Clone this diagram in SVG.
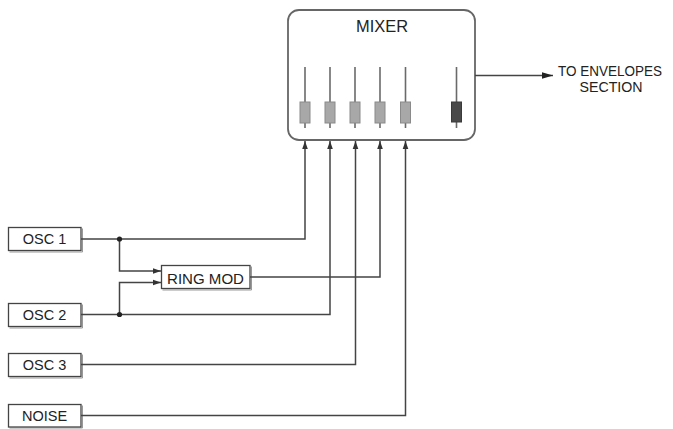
<svg xmlns="http://www.w3.org/2000/svg" width="673" height="429" viewBox="0 0 673 429">
  <defs>
    <style>
      .lbl { font-family: "Liberation Sans", Arial, sans-serif; fill: #222; }
      .box { fill: #fff; stroke: #444; stroke-width: 1.3; }
      .shadow { fill: none; stroke: #999; stroke-width: 1; }
      .wire { fill: none; stroke: #444; stroke-width: 1.5; }
      .track { stroke: #6a6a6a; stroke-width: 1.6; }
      .knob { fill: #a8a8a8; stroke: #8a8a8a; stroke-width: 1; }
      .knob-dark { fill: #4a4a4a; stroke: #3a3a3a; stroke-width: 1; }
    </style>
    <marker id="arr" markerUnits="userSpaceOnUse" markerWidth="8" markerHeight="8" viewBox="0 0 8 8" refX="8" refY="4" orient="auto">
      <path d="M0,1.2 L8,4 L0,6.8 Z" fill="#333"/>
    </marker>
    <marker id="arrBig" markerUnits="userSpaceOnUse" markerWidth="11" markerHeight="8" viewBox="0 0 11 8" refX="11" refY="4" orient="auto">
      <path d="M0,0.8 L11,4 L0,7.2 Z" fill="#222"/>
    </marker>
  </defs>

  <g id="mixer">
    <rect x="288" y="10" width="187" height="130" rx="11" ry="11" fill="#fff" stroke="#666" stroke-width="1.8"/>
    <text class="lbl" x="382" y="31.5" font-size="17" text-anchor="middle" textLength="52" lengthAdjust="spacingAndGlyphs">MIXER</text>
    <line class="track" x1="305" y1="67" x2="305" y2="128"/>
    <line class="track" x1="330" y1="67" x2="330" y2="128"/>
    <line class="track" x1="355" y1="67" x2="355" y2="128" stroke="#333"/>
    <line class="track" x1="380" y1="67" x2="380" y2="128"/>
    <line class="track" x1="405.5" y1="67" x2="405.5" y2="128"/>
    <line class="track" x1="456.5" y1="67" x2="456.5" y2="128"/>
    <rect class="knob" x="300" y="102" width="10" height="21"/>
    <rect class="knob" x="325" y="102" width="10" height="21"/>
    <rect class="knob" x="350" y="102" width="10" height="21"/>
    <rect class="knob" x="375" y="102" width="10" height="21"/>
    <rect class="knob" x="400.5" y="102" width="10" height="21"/>
    <rect class="knob-dark" x="451.5" y="102" width="10" height="20"/>
  </g>

  <g id="osc1">
    <path class="shadow" d="M82.5,228.5 V252 H9.5"/>
    <rect class="box" x="8.5" y="227.5" width="72.5" height="23"/>
    <text class="lbl" x="44.5" y="244" font-size="14.5" text-anchor="middle">OSC 1</text>
  </g>

  <g id="osc2">
    <path class="shadow" d="M82.5,304.5 V328 H9.5"/>
    <rect class="box" x="8.5" y="303.5" width="72.5" height="23"/>
    <text class="lbl" x="44.5" y="320" font-size="14.5" text-anchor="middle">OSC 2</text>
  </g>

  <g id="osc3">
    <path class="shadow" d="M82.5,354.5 V378 H9.5"/>
    <rect class="box" x="8.5" y="353.5" width="72.5" height="23"/>
    <text class="lbl" x="44.5" y="370" font-size="14.5" text-anchor="middle">OSC 3</text>
  </g>

  <g id="noise">
    <path class="shadow" d="M82.5,405.5 V428 H9.5"/>
    <rect class="box" x="8.5" y="404.5" width="72.5" height="22.5"/>
    <text class="lbl" x="44.5" y="421" font-size="14.5" text-anchor="middle">NOISE</text>
  </g>

  <g id="ringmod">
    <path class="shadow" d="M251.5,266.5 V290 H162.5"/>
    <rect class="box" x="161.5" y="265.5" width="88.5" height="23"/>
    <text class="lbl" x="205.5" y="283.5" font-size="15" text-anchor="middle" textLength="77" lengthAdjust="spacingAndGlyphs">RING MOD</text>
  </g>

  <g id="output-label">
    <text class="lbl" x="610" y="75.5" font-size="14" text-anchor="middle" textLength="104" lengthAdjust="spacingAndGlyphs">TO ENVELOPES</text>
    <text class="lbl" x="611" y="92" font-size="14" text-anchor="middle" textLength="63" lengthAdjust="spacingAndGlyphs">SECTION</text>
  </g>

  <g id="connectors">
    <path class="wire" d="M81,239 H305 V141" marker-end="url(#arr)"/>
    <path class="wire" d="M81,314.5 H330 V141" marker-end="url(#arr)"/>
    <path class="wire" d="M81,364.5 H355.5 V141" marker-end="url(#arr)"/>
    <path class="wire" d="M81,415.5 H405.5 V141" marker-end="url(#arr)"/>
    <path class="wire" d="M250,277 H380 V141" marker-end="url(#arr)"/>
    <path class="wire" d="M119.5,239 V271 H161" marker-end="url(#arr)"/>
    <path class="wire" d="M119.5,314.5 V282.5 H161" marker-end="url(#arr)"/>
    <circle cx="119.5" cy="239" r="2.6" fill="#222"/>
    <circle cx="119.5" cy="314.5" r="2.6" fill="#222"/>
    <path class="wire" d="M475,75.5 H553" marker-end="url(#arrBig)"/>
  </g>
</svg>
